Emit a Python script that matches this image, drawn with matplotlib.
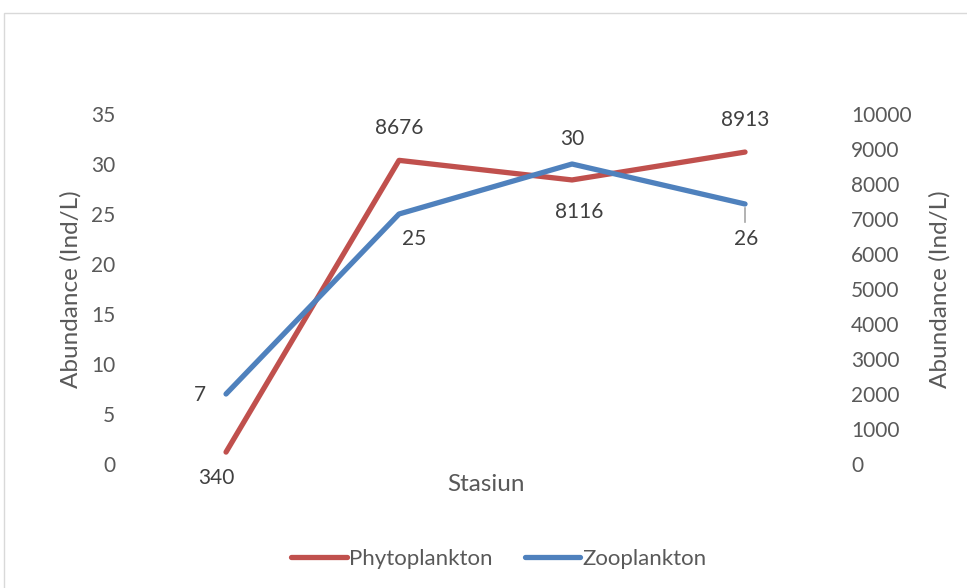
import matplotlib
matplotlib.use("Agg")
import matplotlib.pyplot as plt
from matplotlib.patches import Rectangle

plt.rcParams['font.family'] = ['Lato', 'DejaVu Sans']

stations = ["1", "2", "3", "4"]
phyto = [340, 8676, 8116, 8913]
zoo = [7, 25, 30, 26]

red = "#C0504D"
blue = "#4F81BD"
grey = "#595959"
dark = "#404040"

fig = plt.figure(figsize=(9.67, 5.88), dpi=100)
fig.patches.append(Rectangle((4 / 967, -0.1), 1.2, 1.1 - 13 / 588,
                             transform=fig.transFigure, fill=False,
                             edgecolor="#d9d9d9", linewidth=1))

ax = fig.add_axes([0.1443, 0.2109, 0.7156, 0.5952])
ax2 = ax.twinx()
x = list(range(len(stations)))

ax2.plot(x, phyto, color=red, lw=3.8, solid_capstyle="round", label="Phytoplankton", zorder=2)
ax.plot(x, zoo, color=blue, lw=3.8, solid_capstyle="round", label="Zooplankton", zorder=3)
ax.set_zorder(ax2.get_zorder() + 1)
ax.patch.set_visible(False)

ax.set_xlim(-0.5, 3.5)
ax.set_ylim(0, 35)
ax2.set_ylim(0, 10000)
ax.set_yticks(range(0, 36, 5))
ax2.set_yticks(range(0, 10001, 1000))
ax.set_xticks([])

for a in (ax, ax2):
    for s in a.spines.values():
        s.set_visible(False)
    a.tick_params(length=0, labelsize=15, labelcolor=grey)
ax.tick_params(axis="y", pad=17.5)
ax2.tick_params(axis="y", pad=14)

ax.set_ylabel("Abundance (Ind/L)", fontsize=17.5, color=grey)
ax2.set_ylabel("Abundance (Ind/L)", fontsize=17.5, color=grey)
ax.set_xlabel("Stasiun", fontsize=17.5, color=grey)
ax.yaxis.set_label_coords(-0.084, 0.5)
ax2.yaxis.set_label_coords(1.141, 0.5)
ax.xaxis.set_label_coords(0.5, -0.028)

# value labels (offsets in points)
zoo_off = [(-19, -1), (11, -18), (0, 18), (1, -25)]
phy_off = [(-7, -19), (0, 23), (5, -23), (0, 23)]
for i, v in enumerate(zoo):
    ax.annotate(str(v), (i, v), xytext=zoo_off[i], textcoords="offset points",
                ha="center", va="center", fontsize=15, color=dark)
ax.plot([3, 3], [25.6, 24.2], color="#a6a6a6", lw=1.2, zorder=4)
for i, v in enumerate(phyto):
    ax2.annotate(str(v), (i, v), xytext=phy_off[i], textcoords="offset points",
                 ha="center", va="center", fontsize=15, color=dark)

h1, l1 = ax2.get_legend_handles_labels()
h2, l2 = ax.get_legend_handles_labels()
fig.legend(h1 + h2, l1 + l2, loc="center", bbox_to_anchor=(0.516, 0.049),
           ncol=2, frameon=False, fontsize=16, labelcolor=grey,
           handlelength=2.5, handletextpad=0.1, columnspacing=1.45)

fig.savefig("out.png", dpi=100)
